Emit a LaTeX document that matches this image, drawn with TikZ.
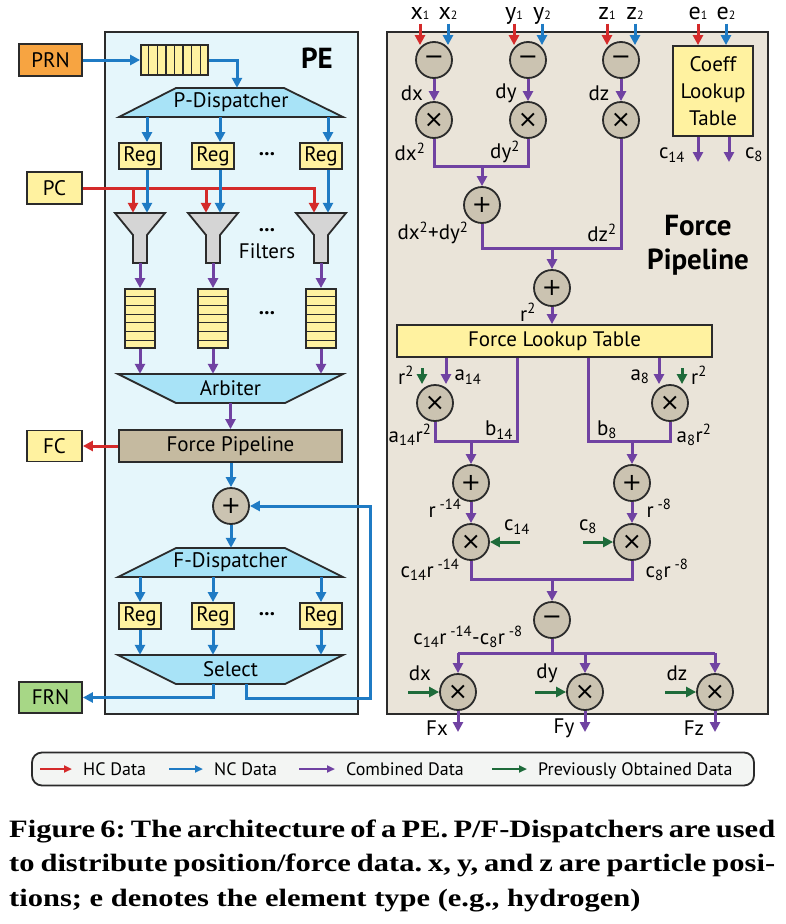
\documentclass[tikz,border=0pt]{standalone}
\usepackage{fontspec}
\setmainfont{PT Sans}
\newfontfamily\capfont[FakeStretch=1.22]{Liberation Serif}
\newfontfamily\opfont{DejaVu Sans}
\usetikzlibrary{positioning,arrows.meta,calc}
\definecolor{hc}{HTML}{D42A2A}
\definecolor{nc}{HTML}{1F7BC4}
\definecolor{comb}{HTML}{7042A2}
\definecolor{prev}{HTML}{1E6B3A}
\definecolor{ink}{HTML}{2B2B2B}
\definecolor{pefill}{HTML}{E5F6FB}
\definecolor{disp}{HTML}{A8E3F7}
\definecolor{regfill}{HTML}{FFF2A0}
\definecolor{tanfill}{HTML}{C5BAA0}
\definecolor{fpfill}{HTML}{EAE4D9}
\definecolor{opfill}{HTML}{CBC3B1}
\definecolor{funnel}{HTML}{D5D5D5}
\definecolor{prnfill}{HTML}{F7A441}
\definecolor{frnfill}{HTML}{A7D786}
\definecolor{legfill}{HTML}{F3F5F3}
% small digit sitting on the baseline, as in x1, x2
\newcommand\insub[1]{{\fontsize{12}{12}\selectfont#1}}
% a filter funnel centred at x, with a named node over it
\newcommand\filtershape[2]{%
  \draw[ink,line width=1.8pt,fill=funnel,line join=miter]
    (#2-25,213) -- (#2+25,213) -- (#2+7,235) -- (#2+7,263) -- (#2-7,263) -- (#2-7,235) -- cycle;
  \node[inner sep=0pt,minimum width=50pt,minimum height=50pt] (#1) at (#2,238) {};}

\begin{document}
\frenchspacing
\begin{tikzpicture}[x=1pt,y=-1pt,
    txt/.style={inner sep=0pt,font=\fontsize{21}{23}\selectfont},
    lbl/.style={inner sep=0pt,font=\fontsize{21}{23}\selectfont},
    inlbl/.style={inner sep=0pt,anchor=base,font=\fontsize{24}{26}\selectfont},
    bigbold/.style={inner sep=0pt,font=\fontsize{29}{31}\selectfont\bfseries},
    dots/.style={inner sep=0pt,font=\fontsize{21}{23}\selectfont\bfseries},
    box/.style={txt,draw=ink,line width=1.8pt},
    reg/.style={box,fill=regfill,minimum width=42pt,minimum height=26pt},
    op/.style={circle,draw=ink,line width=1.8pt,fill=opfill,minimum size=36pt,
      inner sep=0pt,font=\opfont\fontsize{24}{24}\selectfont},
    panel/.style={draw=ink,line width=2pt,inner sep=0pt},
    trap/.style={draw=ink,line width=1.8pt,fill=disp,line join=miter},
    traptext/.style={txt,minimum width=225pt,minimum height=29pt},
    cell/.style={draw=ink,line width=1.3pt},
    wire/.style={line width=3pt,-{Triangle[length=10pt,width=10pt]}},
    hcw/.style={wire,hc}, ncw/.style={wire,nc}, cw/.style={wire,comb}, pw/.style={wire,prev},
    cline/.style={line width=3pt,comb,line join=miter},
    inarrow/.style={shorten <=4pt},
    legw/.style={line width=2pt,-{Triangle[length=8pt,width=7pt]},shorten >=11pt},
    legtxt/.style={inner sep=0pt,font=\fontsize{18}{20}\selectfont},
    capline/.style={inner sep=0pt,anchor=base west,font=\capfont\bfseries\fontsize{25}{27}\selectfont}]
  \useasboundingbox[fill=white] (0,0) rectangle (786,924);

  % ---------------- the PE ----------------
  \node[panel,fill=pefill,minimum width=253pt,minimum height=682pt] (pe) at (231.5,373) {};
  \node[bigbold] (pelab) at (317,58) {PE};

  \node[box,fill=prnfill,minimum width=63pt,minimum height=32pt] (prn) at (50.5,60) {PRN};
  \node[box,fill=regfill,minimum width=67pt,minimum height=30pt] (inq) at (174.5,60) {};
  \foreach \i in {1,...,7}
    \draw[cell] ($(inq.north west)!\i/8!(inq.north east)$) -- ($(inq.south west)!\i/8!(inq.south east)$);
  \draw[ncw] (prn) -- (inq);

  \draw[trap] (119,117) -- (176,88) -- (284,88) -- (343,117) -- cycle;
  \node[traptext] (pd) at (231,102.5) {P-Dispatcher};
  \draw[ncw] (inq.east) -| ([xshift=6pt]pd.north);

  \node[box,fill=regfill,minimum width=55pt,minimum height=32pt] (pc) at (54.5,188) {PC};

  \draw[trap] (118,374) -- (343,374) -- (285,403) -- (176,403) -- cycle;
  \node[traptext] (arb) at (230.5,388.5) {Arbiter};

  % three lanes: register, filter, queue
  \foreach \n/\x in {1/140,2/213,3/321}{
    \node[reg] (ra\n) at (\x,156) {Reg};
    \filtershape{fa\n}{\x}
    \node[box,fill=regfill,minimum width=30pt,minimum height=59pt] (qa\n) at (\x,318.5) {};
    \foreach \i in {1,...,6}
      \draw[cell] ($(qa\n.north west)!\i/7!(qa\n.south west)$) -- ($(qa\n.north east)!\i/7!(qa\n.south east)$);
  }
  \draw[hcw] (pc.east) -| ([xshift=-7pt]fa3.north);
  \foreach \n in {1,2}
    \draw[hcw] ([xshift=-7pt]fa\n.north |- pc.east) -- ([xshift=-7pt]fa\n.north);
  \foreach \n in {1,2,3}{
    \draw[ncw] ([xshift=7pt]ra\n.north |- pd.south) -- ([xshift=7pt]ra\n.north);
    \draw[ncw] ([xshift=7pt]ra\n.south) -- ([xshift=7pt]fa\n.north);
    \draw[cw] (fa\n.south) -- (qa\n.north);
    \draw[cw] (qa\n.south) -- (qa\n.south |- arb.north);
  }
  \node[dots] (dots1) at (267,154) {...};
  \node[dots] (dots2) at (267,230) {...};
  \node[txt] (filt) at (267,251) {Filters};
  \node[dots] (dots3) at (267,313) {...};

  \node[box,fill=tanfill,minimum width=223pt,minimum height=32pt] (fpb) at (230.5,446) {Force Pipeline};
  \node[box,fill=regfill,minimum width=55pt,minimum height=31pt] (fc) at (54.5,446) {FC};
  \draw[cw] (arb.south) -- (fpb.north);
  \draw[hcw] (fpb.west) -- (fc.east);
  \node[op] (acc) at (231,506) {+};
  \draw[ncw] (fpb.south -| acc) -- (acc.north);

  \draw[trap] (118,577) -- (176,548) -- (285,548) -- (343,577) -- cycle;
  \node[traptext] (fd) at (230.5,562.5) {F-Dispatcher};
  \draw[ncw] (acc.south) -- (fd.north -| acc);

  \draw[trap] (118,655) -- (343,655) -- (285,684) -- (176,684) -- cycle;
  \node[traptext] (sel) at (230.5,669.5) {Select};
  \foreach \n/\x in {1/140,2/213,3/321}{
    \node[reg] (rb\n) at (\x,616) {Reg};
    \draw[ncw] (rb\n.north |- fd.south) -- (rb\n.north);
    \draw[ncw] (rb\n.south) -- (rb\n.south |- sel.north);
  }
  \node[dots] (dots4) at (267,614) {...};

  \node[box,fill=frnfill,minimum width=63pt,minimum height=31pt] (frn) at (50.5,697.5) {FRN};
  \draw[ncw] (rb2.south |- sel.south) |- (frn.east);
  % feedback into the accumulator
  \coordinate (loop) at (370,698);
  \draw[ncw] ([xshift=16pt]sel.south) |- (loop) |- (acc.east);

  % ---------------- the force pipeline ----------------
  \node[panel,fill=fpfill,minimum width=381pt,minimum height=682pt] (fpp) at (577.5,373) {};
  \node[bigbold] (fplab1) at (698,226) {Force};
  \node[bigbold] (fplab2) at (698,262) {Pipeline};

  \foreach \v/\x in {x/434,y/528,z/621}{
    \node[op] (s\v) at (\x,60) {−};
    \node[op] (m\v) at (\x,120) {×};
    \node[inlbl] (\v1) at (\x-14,19.5) {\v\insub{1}};
    \node[inlbl] (\v2) at (\x+14,19.5) {\v\insub{2}};
    \draw[hcw,inarrow,shorten >=-4pt] (\v1.base) -- (\v1.base |- s\v.north);
    \draw[ncw,inarrow,shorten >=-4pt] (\v2.base) -- (\v2.base |- s\v.north);
    \draw[cw] (s\v.south) -- (m\v.north);
    \node[lbl] (d\v) at (\x-22,93) {d\v};
  }
  \node[box,fill=regfill,minimum width=80pt,minimum height=90pt,align=center,
    font=\fontsize{21}{27}\selectfont] (coef) at (713,91) {Coeff\\Lookup\\Table};
  \node[inlbl] (e1) at (698,19.5) {e\insub{1}};
  \node[inlbl] (e2) at (726,19.5) {e\insub{2}};
  \draw[hcw,inarrow] (e1.base) -- (e1.base |- coef.north);
  \draw[ncw,inarrow] (e2.base) -- (e2.base |- coef.north);
  \coordinate (c14o) at (698,162);
  \coordinate (c8o) at (729,162);
  \draw[cw] (coef.south -| c14o) -- (c14o);
  \draw[cw] (coef.south -| c8o) -- (c8o);
  \node[lbl] (lc14) at (672,155) {c\textsubscript{14}};
  \node[lbl] (lc8) at (754,155) {c\textsubscript{8}};

  \node[lbl] (ldx2) at (410,152) {dx\textsuperscript{2}};
  \node[lbl] (ldy2) at (505,152) {dy\textsuperscript{2}};
  \node[op] (ax) at (482,205) {+};
  \coordinate (jxy) at (482,166);
  \draw[cline] (mx.south) |- (my.south |- jxy) -- (my.south);
  \draw[cw] (jxy) -- (ax.north);
  \node[lbl] (ldxy) at (433,233) {dx\textsuperscript{2}+dy\textsuperscript{2}};
  \node[lbl] (ldz2) at (602,233) {dz\textsuperscript{2}};
  \node[op] (ar) at (552,288) {+};
  \coordinate (jr) at (552,248);
  \draw[cline] (ax.south) |- (mz.south |- jr) -- (mz.south);
  \draw[cw] (jr) -- (ar.north);
  \node[lbl] (lr2) at (528,312) {r\textsuperscript{2}};
  \node[box,fill=regfill,minimum width=315pt,minimum height=32pt] (flt) at (554.5,341) {Force Lookup Table};
  \draw[cw] (ar.south) -- (flt.north -| ar);

  % the two terms, 14 on the left and 8 on the right
  \node[op] (m14) at (435,403) {×};
  \node[op] (m8) at (670,403) {×};
  \draw[cw] ([xshift=11pt]m14.north |- flt.south) -- ([xshift=11pt]m14.north);
  \draw[cw] ([xshift=-11pt]m8.north |- flt.south) -- ([xshift=-11pt]m8.north);
  \coordinate (g14) at (422,368);
  \coordinate (g8) at (682,368);
  \draw[pw] (g14) -- (g14 |- m14.north);
  \draw[pw] (g8) -- (g8 |- m8.north);
  \node[lbl] (lr2a) at (406,375) {r\textsuperscript{2}};
  \node[lbl] (la14) at (468,377) {a\textsubscript{14}};
  \node[lbl] (la8) at (640,377) {a\textsubscript{8}};
  \node[lbl] (lr2b) at (699,375) {r\textsuperscript{2}};

  \coordinate (b14) at (517,441);
  \coordinate (j14) at (471,441);
  \draw[cline] (m14.south) |- (b14) -- (b14 |- flt.south);
  \node[op] (p14) at (471,483) {+};
  \draw[cw] (j14) -- (p14.north);
  \coordinate (b8) at (588,441);
  \coordinate (j8) at (632,441);
  \draw[cline] (m8.south) |- (b8) -- (b8 |- flt.south);
  \node[op] (p8) at (632,483) {+};
  \draw[cw] (j8) -- (p8.north);
  \node[lbl] (la14r) at (410,435) {a\textsubscript{14}r\textsuperscript{2}};
  \node[lbl] (lb14) at (499,430) {b\textsubscript{14}};
  \node[lbl] (lb8) at (607,430) {b\textsubscript{8}};
  \node[lbl] (la8r) at (694,435) {a\textsubscript{8}r\textsuperscript{2}};

  \node[op] (q14) at (471,542) {×};
  \node[op] (q8) at (632,542) {×};
  \draw[cw] (p14) -- (q14);
  \draw[cw] (p8) -- (q8);
  \coordinate (gc14) at (520,542);
  \coordinate (gc8) at (583,542);
  \draw[pw] (gc14) -- (q14.east);
  \draw[pw] (gc8) -- (q8.west);
  \node[lbl] (lrm14) at (445,508) {r\textsuperscript{ -14}};
  \node[lbl] (lrm8) at (659,508) {r\textsuperscript{ -8}};
  \node[lbl] (lgc14) at (517,527) {c\textsubscript{14}};
  \node[lbl] (lgc8) at (588,527) {c\textsubscript{8}};
  \node[lbl] (lcr14) at (430,570) {c\textsubscript{14}r\textsuperscript{ -14}};
  \node[lbl] (lcr8) at (667,570) {c\textsubscript{8}r\textsuperscript{ -8}};

  \coordinate (jd) at (552,579);
  \draw[cline] (q14.south) |- (jd) -| (q8.south);
  \node[op] (dif) at (552,620) {−};
  \draw[cw] (jd) -- (dif.north);
  \node[lbl] (ldif) at (468,637) {c\textsubscript{14}r\textsuperscript{ -14}-c\textsubscript{8}r\textsuperscript{ -8}};

  % scale the distance components
  \coordinate (jf) at (552,653);
  \foreach \v/\x in {x/458,y/585,z/715}{
    \node[op] (f\v) at (\x,692) {×};
    \coordinate (g\v) at (\x-50,692);
    \draw[pw] (g\v) -- (f\v.west);
    \node[lbl] (ld\v) at (\x-38,673) {d\v};
    \coordinate (o\v) at (\x,732);
    \draw[cw] (f\v.south) -- (o\v);
    \node[lbl] (lf\v) at (\x-21,728) {F\v};
  }
  \draw[cline] (dif.south) -- (jf);
  \draw[cline,line cap=square] (fx.north |- jf) -- (fz.north |- jf);
  \foreach \v in {x,y,z}
    \draw[cw] (f\v.north |- jf) -- (f\v.north);

  % ---------------- legend ----------------
  \node[draw=ink,line width=1.8pt,rounded corners=10pt,fill=legfill,inner sep=0pt,
    minimum width=722pt,minimum height=33pt] (leg) at (393,769) {};
  \foreach \c/\xa/\xt/\lab in {hc/40/83/HC Data, nc/169/214/NC Data,
                               comb/299/346/Combined Data, prev/492/538/Previously Obtained Data}{
    \coordinate (k\c) at (\xa,769);
    \node[legtxt,anchor=base west] (t\c) at (\xt,775.5) {\lab};
    \draw[legw,\c] (k\c) -- (k\c -| t\c.west);
  }

  % ---------------- caption ----------------
  \node[capline] (cap1) at (9,837) {\makebox[766pt][s]{Figure 6: The architecture of a PE. P/F-Dispatchers are used}};
  \node[capline] (cap2) at (9,871) {\makebox[766pt][s]{to distribute position/force data. x, y, and z are particle posi-}};
  \node[capline] (cap3) at (9,906) {tions; e denotes the element type (e.g., hydrogen)};
\end{tikzpicture}
\end{document}
